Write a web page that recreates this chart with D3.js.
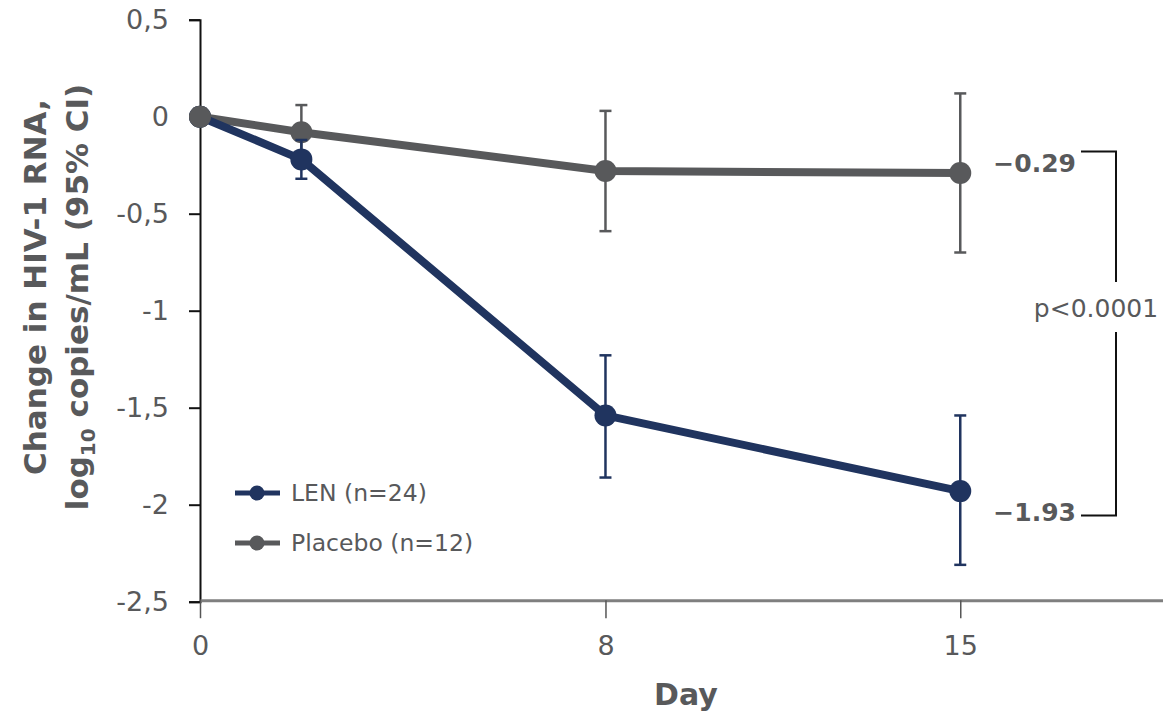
<!DOCTYPE html>
<html>
<head>
<meta charset="utf-8">
<script src="https://cdn.jsdelivr.net/npm/d3@7"></script>
<style>
  html, body { margin: 0; padding: 0; background: #fff; }
  svg { display: block; font-family: "DejaVu Sans", sans-serif; }
</style>
</head>
<body>
<svg id="chart" width="1163" height="713"></svg>
<script>
// data
const days = [0, 2, 8, 15];
const lenMean = [0, -0.22, -1.54, -1.93];
const lenLow = [0, -0.32, -1.86, -2.31];
const lenHigh = [0, -0.12, -1.23, -1.54];
const pboMean = [0, -0.08, -0.28, -0.29];
const pboLow = [0, -0.22, -0.59, -0.70];
const pboHigh = [0, 0.06, 0.03, 0.12];
const xTicks = [0, 8, 15];
const yTicks = [0.5, 0, -0.5, -1, -1.5, -2, -2.5];
const seriesNames = ['LEN (n=24)', 'Placebo (n=12)'];
const endLabels = ['\u22121.93', '\u22120.29'];
const pLabel = 'p<0.0001';

const textGray = '#58595b';
const lenColor = '#20345f';
const pboColor = '#58595b';

const svg = d3.select('#chart');

const x = d3.scaleLinear().domain([0, 19]).range([200, 1163]);
const y = d3.scaleLinear().domain([-2.5, 0.5]).range([601.7, 19.7]);

// y axis
const yAxis = svg.append('g')
    .attr('transform', `translate(${x(0)},0)`)
    .call(d3.axisLeft(y).tickValues(yTicks).tickSize(11).tickPadding(20)
        .tickFormat(d => String(d).replace('.', ',')));
yAxis.select('.domain').attr('stroke', '#111').attr('stroke-width', 2);
yAxis.selectAll('.tick line').attr('stroke', '#111').attr('stroke-width', 2);
yAxis.selectAll('.tick text')
    .attr('fill', textGray)
    .style('font-size', '27px')
    .style('font-family', '"DejaVu Sans", sans-serif');

// x axis
const xAxis = svg.append('g')
    .attr('transform', `translate(0,${y(-2.5) - 1.5})`)
    .call(d3.axisBottom(x).tickValues(xTicks).tickSize(18).tickSizeOuter(0).tickPadding(18));
xAxis.select('.domain').attr('stroke', '#7f7f7f').attr('stroke-width', 3);
xAxis.selectAll('.tick line').attr('stroke', '#555').attr('stroke-width', 1.5);
xAxis.selectAll('.tick text')
    .attr('fill', textGray)
    .style('font-size', '27px')
    .style('font-family', '"DejaVu Sans", sans-serif');

svg.append('text')
    .attr('x', 686)
    .attr('y', 705)
    .attr('text-anchor', 'middle')
    .attr('fill', textGray)
    .style('font-size', '30px')
    .style('font-weight', 'bold')
    .text('Day');

// y axis title, two lines
svg.append('text')
    .attr('transform', 'translate(35,287) rotate(-90)')
    .attr('text-anchor', 'middle')
    .attr('dy', '0.35em')
    .attr('fill', textGray)
    .style('font-size', '31px')
    .style('font-weight', 'bold')
    .text('Change in HIV-1 RNA,');
const t2 = svg.append('text')
    .attr('transform', 'translate(77,297) rotate(-90)')
    .attr('text-anchor', 'middle')
    .attr('dy', '0.35em')
    .attr('fill', textGray)
    .style('font-size', '31px')
    .style('font-weight', 'bold');
t2.append('tspan').text('log');
t2.append('tspan').attr('dy', 7).style('font-size', '20px').text('10');
t2.append('tspan').attr('dy', -7).text(' copies/mL (95% CI)');

// series
const series = [
    {mean: pboMean, low: pboLow, high: pboHigh, color: pboColor},
    {mean: lenMean, low: lenLow, high: lenHigh, color: lenColor}
];
const line = d3.line().x(d => x(d[0])).y(d => y(d[1]));

series.forEach(s => {
    const g = svg.append('g');
    const pts = days.map((d, i) => ({day: d, m: s.mean[i], lo: s.low[i], hi: s.high[i]}));
    const bars = pts.filter(p => p.lo !== p.hi);
    g.selectAll('line.err').data(bars).join('line')
        .attr('class', 'err')
        .attr('x1', p => x(p.day)).attr('x2', p => x(p.day))
        .attr('y1', p => y(p.lo)).attr('y2', p => y(p.hi))
        .attr('stroke', s.color).attr('stroke-width', 2.5);
    ['lo', 'hi'].forEach(k => {
        g.selectAll('line.cap-' + k).data(bars).join('line')
            .attr('class', 'cap-' + k)
            .attr('x1', p => x(p.day) - 6).attr('x2', p => x(p.day) + 6)
            .attr('y1', p => y(p[k])).attr('y2', p => y(p[k]))
            .attr('stroke', s.color).attr('stroke-width', 2.5);
    });
    g.append('path')
        .datum(days.map((d, i) => [d, s.mean[i]]))
        .attr('d', line)
        .attr('fill', 'none')
        .attr('stroke', s.color)
        .attr('stroke-width', 8)
        .attr('stroke-linejoin', 'round');
    g.selectAll('circle').data(pts).join('circle')
        .attr('cx', p => x(p.day)).attr('cy', p => y(p.m))
        .attr('r', 11)
        .attr('fill', s.color);
});
// placebo baseline marker drawn on top
svg.append('circle')
    .attr('cx', x(days[0])).attr('cy', y(pboMean[0]))
    .attr('r', 11).attr('fill', pboColor);

// end labels
const lastI = days.length - 1;
const endVals = [lenMean[lastI], pboMean[lastI]];
endVals.forEach((v, i) => {
    svg.append('text')
        .attr('x', 1076)
        .attr('y', (i === 0 ? y(v) + 21 : y(v) - 10))
        .attr('dy', '0.35em')
        .attr('text-anchor', 'end')
        .attr('fill', textGray)
        .style('font-size', '25px')
        .style('font-weight', 'bold')
        .text(endLabels[i]);
});

// bracket
const bTop = y(pboMean[lastI]) - 21.5;
const bBot = y(lenMean[lastI]) + 24.5;
const bx = 1116;
const bracket = svg.append('g').attr('stroke', '#111').attr('stroke-width', 2).attr('fill', 'none');
bracket.append('path').attr('d', `M1081,${bTop}H${bx}V282`);
bracket.append('path').attr('d', `M1081,${bBot}H${bx}V332`);
svg.append('text')
    .attr('x', 1096)
    .attr('y', 308)
    .attr('dy', '0.35em')
    .attr('text-anchor', 'middle')
    .attr('fill', textGray)
    .style('font-size', '25px')
    .text(pLabel);

// legend
const legend = svg.append('g');
[lenColor, pboColor].forEach((c, i) => {
    const ly = 493 + i * 50;
    legend.append('line')
        .attr('x1', 235).attr('x2', 280).attr('y1', ly).attr('y2', ly)
        .attr('stroke', c).attr('stroke-width', 5);
    legend.append('circle').attr('cx', 257).attr('cy', ly).attr('r', 7.5).attr('fill', c);
    legend.append('text')
        .attr('x', 291).attr('y', ly).attr('dy', '0.35em')
        .attr('fill', textGray)
        .style('font-size', '23.5px')
        .text(seriesNames[i]);
});
</script>
</body>
</html>
